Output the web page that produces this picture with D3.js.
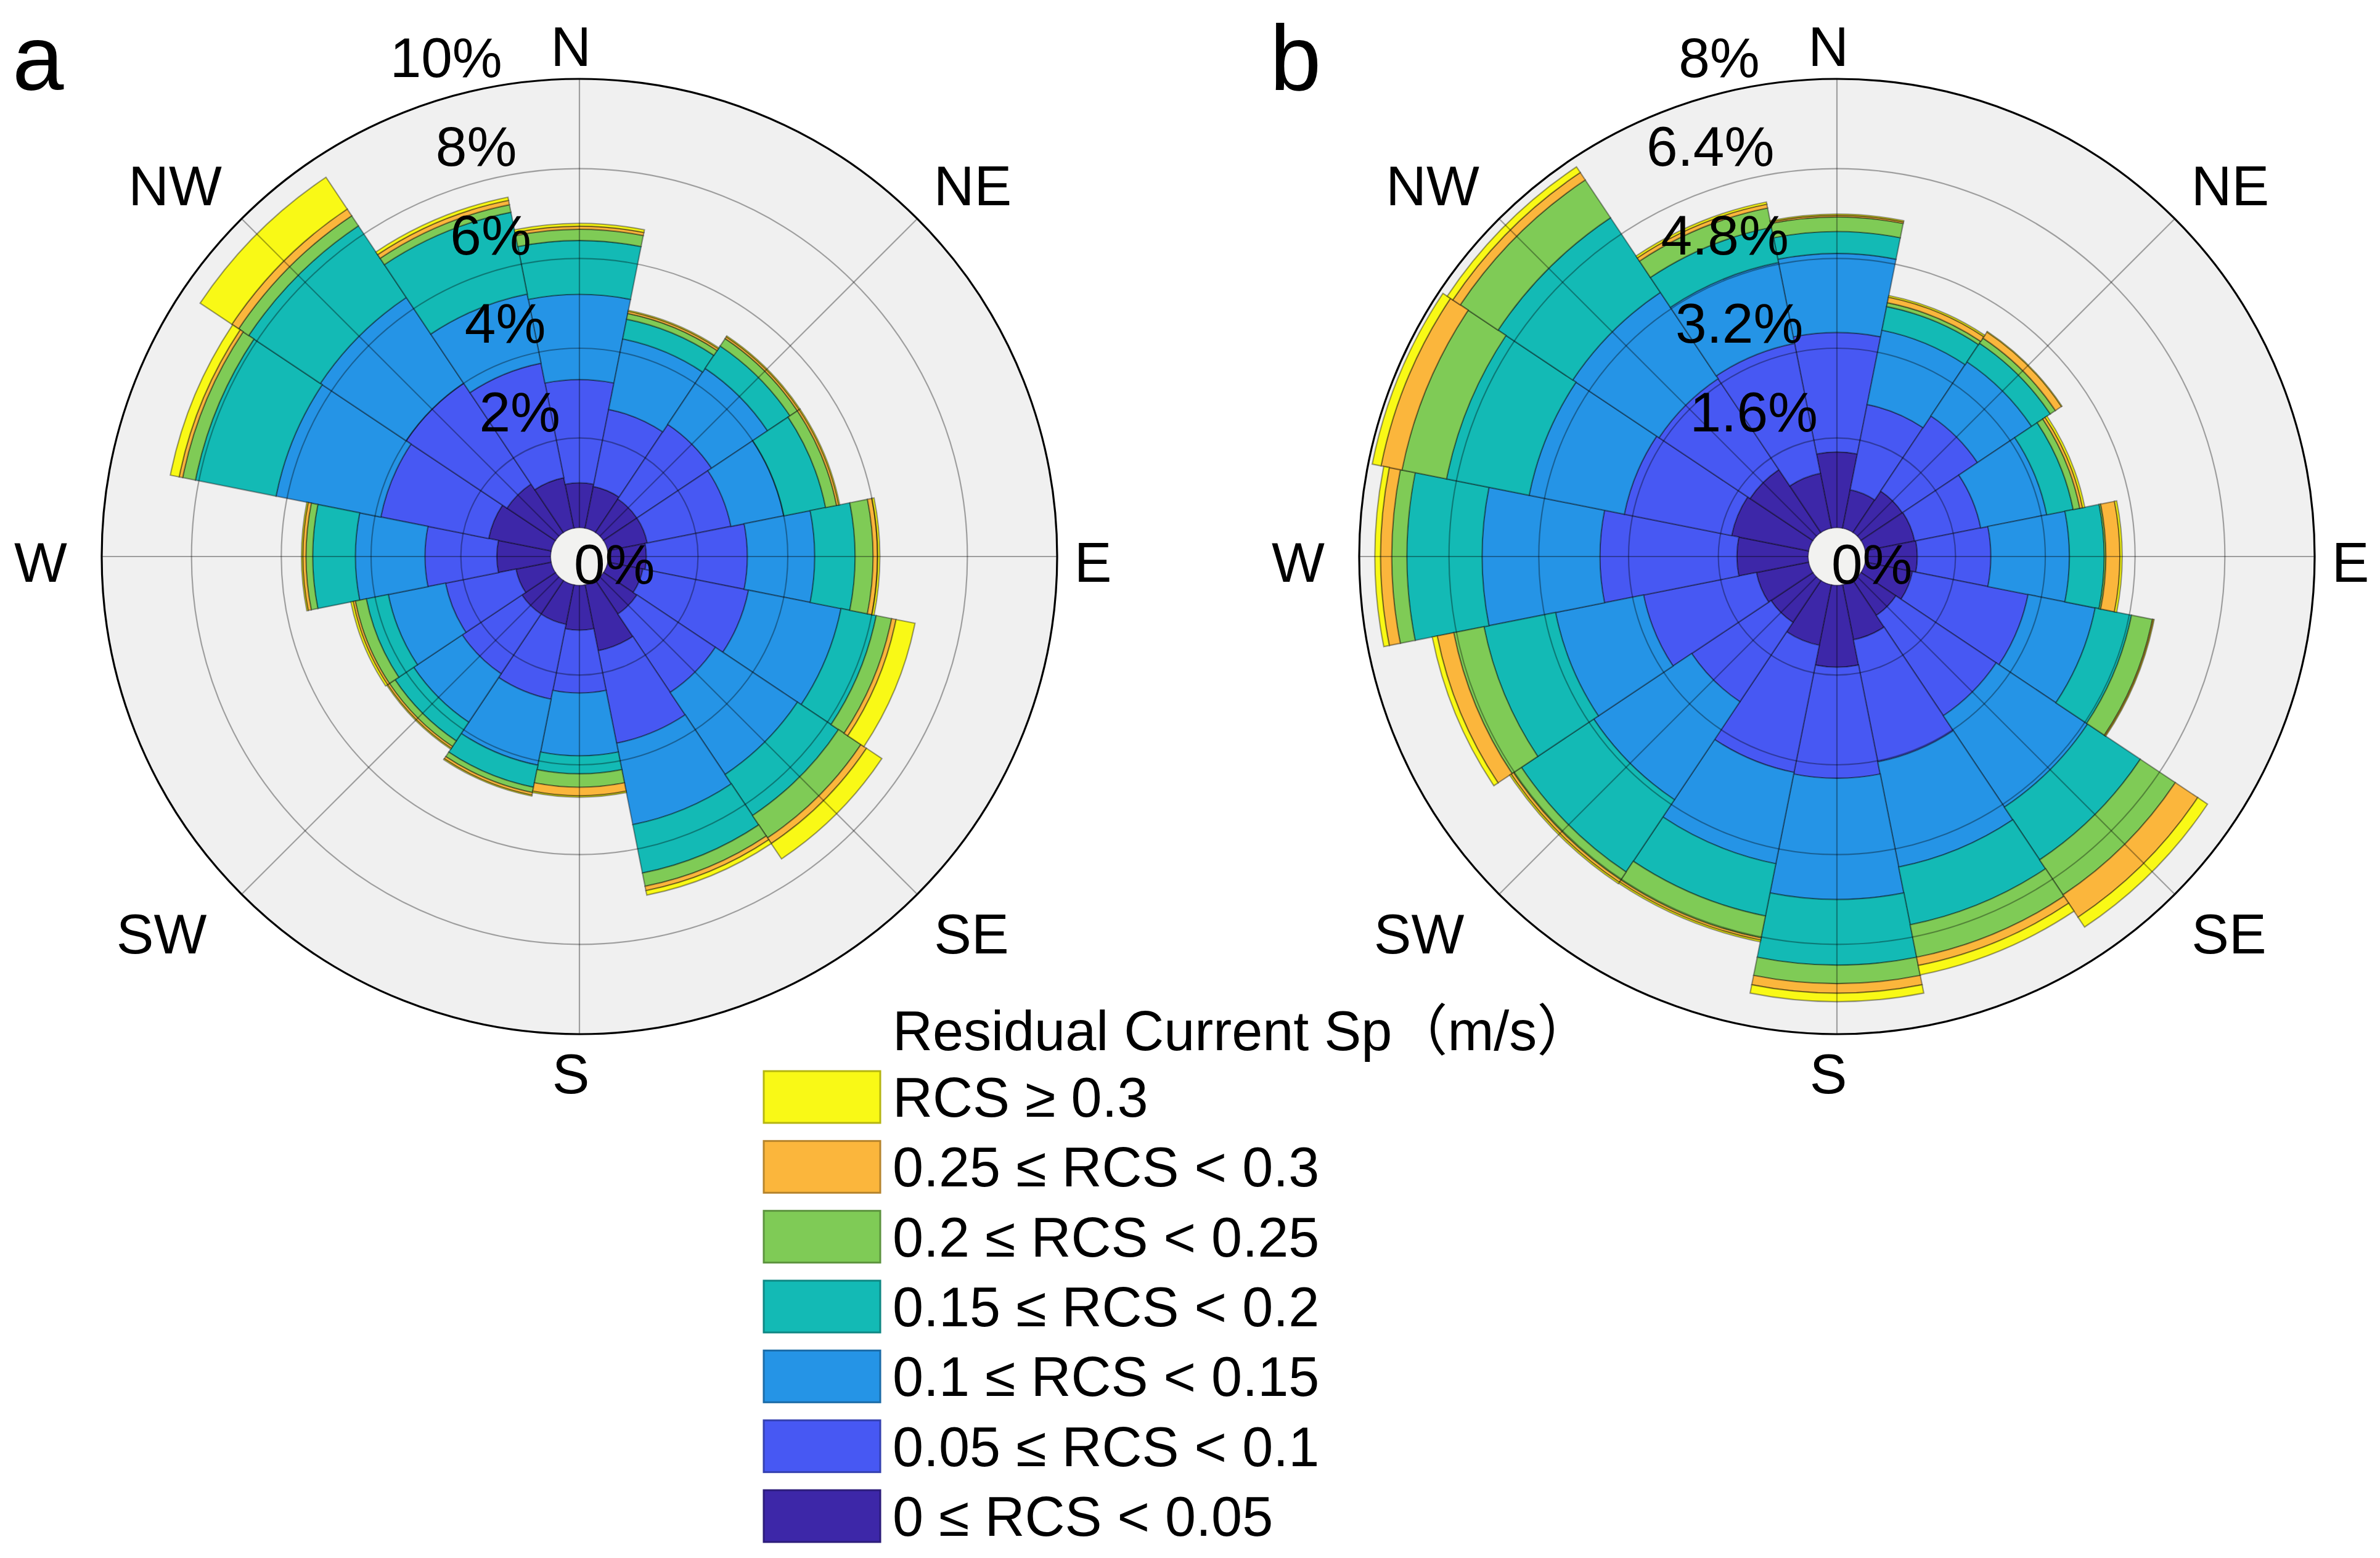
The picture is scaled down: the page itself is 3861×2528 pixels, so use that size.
<!DOCTYPE html>
<html><head><meta charset="utf-8">
<script src="https://cdn.jsdelivr.net/npm/d3@7"></script>
<style>
body{margin:0;background:#fff}
text{font-family:"Liberation Sans",Arial,"Noto Sans CJK SC",sans-serif;fill:#000}
</style>
</head><body>
<svg id="c" width="3861" height="2528"></svg>
<script>
// ---------------- data ----------------
const directions = ["N","NNE","NE","ENE","E","ESE","SE","SSE","S","SSW","SW","WSW","W","WNW","NW","NNW"];
const binKeys = ["s1","s2","s3","s4","s5","s6","s7"];
const binLabels = ["0 \u2264 RCS < 0.05","0.05 \u2264 RCS < 0.1","0.1 \u2264 RCS < 0.15","0.15 \u2264 RCS < 0.2","0.2 \u2264 RCS < 0.25","0.25 \u2264 RCS < 0.3","RCS \u2265 0.3"];
const binColors = ["#3D27A8","#4758F3","#2594E6","#13BAB5","#7FCB56","#FBB63C","#F9F916"];
const legendTitle = "Residual Current Sp\uFF08m/s\uFF09";

// panel a : frequency (%) per speed bin, 16 directions N..NNW
const a_s1 = [1.00,0.95,0.90,0.90,0.85,0.80,0.90,1.50,1.00,0.90,0.90,0.80,1.20,1.42,1.30,1.15];
const a_s2 = [2.30,1.75,2.00,1.90,2.25,2.40,2.10,2.10,1.40,1.70,1.60,1.60,1.60,2.45,2.70,2.60];
const a_s3 = [1.90,1.60,1.50,1.20,1.50,2.10,2.20,1.85,1.40,1.50,1.30,1.30,1.55,2.38,2.30,1.57];
const a_s4 = [1.20,0.45,0.60,0.95,0.90,0.80,1.10,1.10,0.40,0.50,0.50,0.50,0.95,1.83,1.92,1.86];
const a_s5 = [0.25,0.13,0.20,0.25,0.40,0.35,0.60,0.30,0.30,0.12,0.15,0.25,0.15,0.29,0.27,0.17];
const a_s6 = [0.07,0.05,0.05,0.05,0.10,0.10,0.15,0.10,0.19,0.06,0.05,0.05,0.07,0.08,0.18,0.10];
const a_s7 = [0.06,0.02,0.02,0.02,0.05,0.43,0.41,0.10,0.03,0.02,0.02,0.05,0.03,0.20,0.85,0.07];

// panel b
const b_s1 = [1.35,0.70,0.89,0.90,0.92,0.86,0.75,1.00,1.46,1.10,0.90,0.95,1.27,1.40,1.35,1.00];
const b_s2 = [2.13,1.55,1.61,1.20,1.31,2.10,2.15,2.22,1.98,2.31,1.70,2.05,2.44,1.95,1.95,2.36];
const b_s3 = [1.41,1.35,1.16,1.20,1.40,1.22,1.96,1.91,2.16,1.66,2.10,1.60,2.10,1.73,1.85,1.47];
const b_s4 = [0.39,0.43,0.40,0.48,0.62,0.66,1.13,1.05,1.17,0.95,1.55,1.30,1.34,1.50,1.60,0.64];
const b_s5 = [0.26,0.07,0.11,0.12,0.03,0.38,0.75,0.59,0.33,0.40,0.17,0.55,0.27,0.81,0.81,0.35];
const b_s6 = [0.03,0.10,0.13,0.05,0.25,0.02,0.48,0.15,0.17,0.04,0.05,0.30,0.20,0.38,0.16,0.07];
const b_s7 = [0.02,0.03,0.01,0.04,0.04,0.01,0.21,0.17,0.15,0.03,0.03,0.09,0.10,0.16,0.12,0.04];

const ticksA = [2,4,6,8,10];
const tickLabelsA = ["2%","4%","6%","8%","10%"];
const ticksB = [1.6,3.2,4.8,6.4,8];
const tickLabelsB = ["1.6%","3.2%","4.8%","6.4%","8%"];
const compass = ["N","NE","E","SE","S","SW","W","NW"];
const compassAngles = [0,45,90,135,180,225,270,315];

// ---------------- drawing ----------------
const svg = d3.select("#c");
const R = 775, R0 = 46.7;
const step = 2*Math.PI/directions.length;
const labelOffsets = {N:[-14,-829],NE:[638,-603],E:[833,8],SE:[636,611],S:[-14,838],SW:[-678,611],W:[-874,8],NW:[-656,-603]};

function drawRose(cx, cy, series, maxVal, ticks, tickLabels, panel){
  const g = svg.append("g").attr("transform",`translate(${cx},${cy})`);
  const r = d3.scaleLinear().domain([0,maxVal]).range([R0,R]);
  const rows = directions.map((d,i)=>{const o={dir:d,idx:i}; binKeys.forEach((k,j)=>o[k]=series[j][i]); return o;});
  const stacked = d3.stack().keys(binKeys)(rows);
  const color = d3.scaleOrdinal().domain(binKeys).range(binColors);

  g.append("circle").attr("r",R).attr("fill","#F0F0F0");

  const arc = d3.arc()
    .innerRadius(d=>r(d[0])).outerRadius(d=>r(d[1]))
    .startAngle(d=>d.data.idx*step - step/2).endAngle(d=>d.data.idx*step + step/2);

  g.selectAll("g.layer").data(stacked).join("g").attr("class","layer")
    .attr("fill",s=>color(s.key))
    .selectAll("path").data(s=>s).join("path")
    .attr("d",arc)
    .attr("stroke","rgba(0,0,0,0.38)").attr("stroke-width",2.2).attr("stroke-linejoin","miter");

  // grid rings (on top of bars)
  g.selectAll("circle.ring").data(ticks.slice(0,-1)).join("circle").attr("class","ring")
    .attr("r",d=>r(d)).attr("fill","none").attr("stroke","rgba(0,0,0,0.34)").attr("stroke-width",2.2);
  // radial spokes
  g.selectAll("line.spoke").data(compassAngles).join("line").attr("class","spoke")
    .attr("x1",a=>R0*Math.sin(a*Math.PI/180)).attr("y1",a=>-R0*Math.cos(a*Math.PI/180))
    .attr("x2",a=>R*Math.sin(a*Math.PI/180)).attr("y2",a=>-R*Math.cos(a*Math.PI/180))
    .attr("stroke","rgba(0,0,0,0.34)").attr("stroke-width",2.2);
  // outer circle
  g.append("circle").attr("r",R).attr("fill","none").attr("stroke","#000").attr("stroke-width",3.2);
  // hole
  g.append("circle").attr("r",R0-1).attr("fill","#F2F2F0");

  // ring labels
  const th = 9.3*Math.PI/180;
  g.selectAll("text.tick").data(ticks).join("text").attr("class","tick")
    .attr("x",d=>-r(d)*Math.sin(th)).attr("y",d=>-r(d)*Math.cos(th)-13)
    .attr("text-anchor","end").attr("font-size",91)
    .text((d,i)=>tickLabels[i]);
  g.append("text").attr("x",-9).attr("y",44).attr("font-size",91).text("0%");

  // compass labels
  g.selectAll("text.dir").data(compass).join("text").attr("class","dir")
    .attr("x",d=>labelOffsets[d][0]).attr("y",d=>labelOffsets[d][1]+32.5)
    .attr("text-anchor","middle").attr("font-size",91).text(d=>d);

  // panel letter
  svg.append("text").attr("x",cx-920).attr("y",146).attr("font-size",150).text(panel);
}

drawRose(940,903,[a_s1,a_s2,a_s3,a_s4,a_s5,a_s6,a_s7],10,ticksA,tickLabelsA,"a");
drawRose(2980,903,[b_s1,b_s2,b_s3,b_s4,b_s5,b_s6,b_s7],8,ticksB,tickLabelsB,"b");

// ---------------- legend ----------------
const leg = svg.append("g");
leg.append("text").attr("x",1448).attr("y",1704).attr("font-size",90).text(legendTitle);
const order = d3.range(binLabels.length).reverse();
const ly = d3.scalePoint().domain(order).range([1780,2460]);
order.forEach(j=>{
  const y = ly(j);
  leg.append("rect").attr("x",1239).attr("y",y-42).attr("width",189).attr("height",84)
    .attr("fill",binColors[j]).attr("stroke",d3.color(binColors[j]).darker(0.9)).attr("stroke-width",3);
  leg.append("text").attr("x",1448).attr("y",y+32).attr("font-size",90).text(binLabels[j]);
});
</script>
</body></html>
